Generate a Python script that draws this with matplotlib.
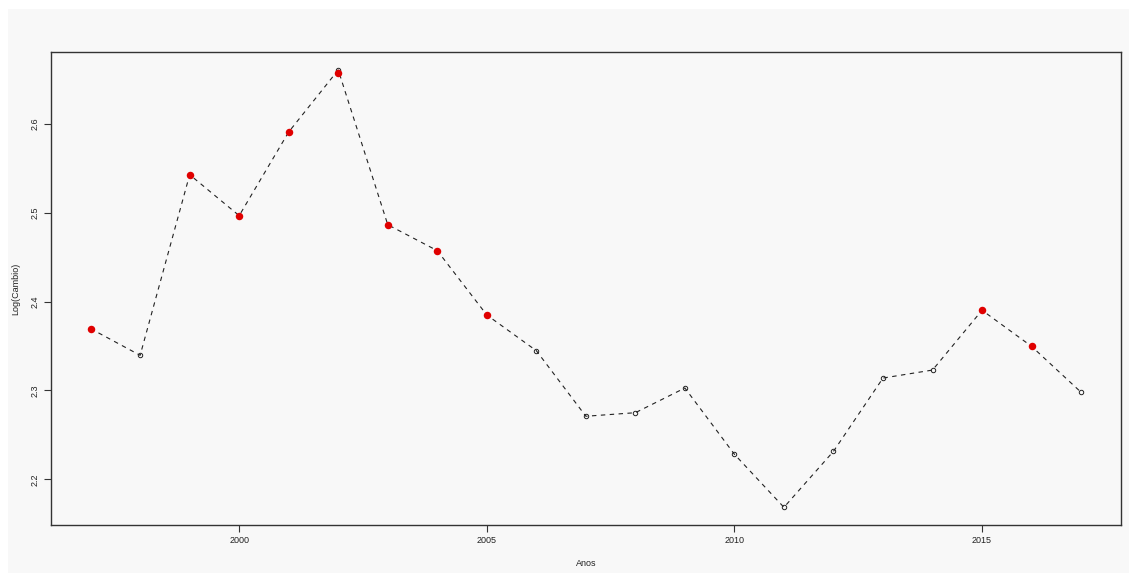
import matplotlib
matplotlib.use("Agg")
import matplotlib.pyplot as plt
from matplotlib.patches import Rectangle

plt.rcParams['font.family'] = ['Liberation Sans', 'DejaVu Sans']

anos = list(range(1997, 2018))
log_cambio = [2.3696, 2.3396, 2.5429, 2.4968, 2.5910, 2.6608, 2.4866,
              2.4574, 2.3850, 2.3448, 2.2710, 2.2750, 2.3028, 2.2282,
              2.1685, 2.2315, 2.3140, 2.3230, 2.3903, 2.3497, 2.2980]

# pontos destacados em vermelho
anos_destaque = [1997, 1999, 2000, 2001, 2002, 2003, 2004, 2005, 2015, 2016]
valores_destaque = [2.3696, 2.5429, 2.4968, 2.5910, 2.6570, 2.4866,
                    2.4574, 2.3850, 2.3903, 2.3497]

x_ticks = [2000, 2005, 2010, 2015]
y_ticks = [2.2, 2.3, 2.4, 2.5, 2.6]

W, H = 1129, 573
bg = '#f8f8f8'
fig = plt.figure(figsize=(W / 100, H / 100), dpi=100, facecolor='white')
fig.patches.append(Rectangle((8 / W, 0), 1 - 8 / W, 1 - 9 / H,
                             transform=fig.transFigure, facecolor=bg,
                             edgecolor='none', zorder=-10))

ax = fig.add_axes([51 / W, (H - 525) / H, (1120.7 - 51) / W, (525 - 52) / H])
ax.set_facecolor(bg)

ax.plot(anos, log_cambio, color='#222222', lw=0.8, dashes=(4, 4),
        marker='o', markersize=3.2, markerfacecolor='none',
        markeredgecolor='#222222', markeredgewidth=0.7)
ax.plot(anos_destaque, valores_destaque, 'o', color='#e00000',
        markersize=5.4, markeredgewidth=0, zorder=3)

ax.set_xlim(1996.2, 2017.8)
ax.set_ylim(2.1486, 2.681)
ax.set_xticks(x_ticks)
ax.set_yticks(y_ticks)
ax.set_xticklabels([str(t) for t in x_ticks], fontsize=6.5, color='#222222')
ax.set_yticklabels([f'{t:.1f}' for t in y_ticks], fontsize=6.5,
                   color='#222222', rotation=90, va='center')
ax.tick_params(length=5, width=0.8, color='#333333', pad=3)

for s in ax.spines.values():
    s.set_color('#333333')
    s.set_linewidth(1.0)

ax.set_xlabel('Anos', fontsize=6.5, color='#222222', labelpad=10)
ax.set_ylabel('Log(Cambio)', fontsize=6.5, color='#222222', labelpad=8)

fig.savefig('out.png', dpi=100, facecolor='white')
